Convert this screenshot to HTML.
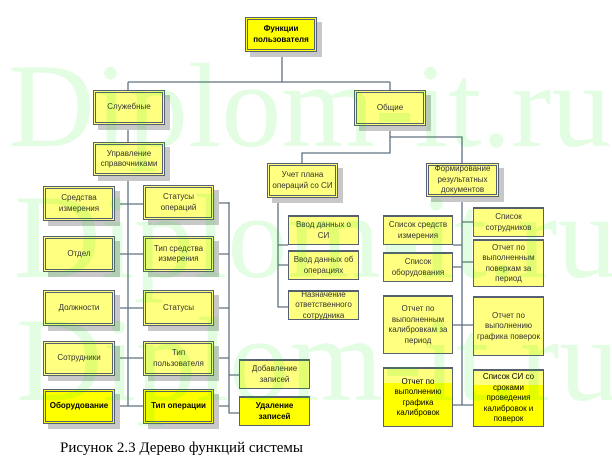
<!DOCTYPE html>
<html><head><meta charset="utf-8"><style>
body{margin:0;width:612px;height:460px;background:#fff;position:relative;overflow:hidden;font-family:"Liberation Sans",Arial,sans-serif}
.b{position:absolute;box-sizing:border-box;background:#ffff80;border:3px double #556070;box-shadow:5px 5px 0 #c8c8c8;display:flex;align-items:center;justify-content:center;text-align:center;font-size:8px;line-height:10.5px;color:#333;letter-spacing:0;white-space:nowrap}
.y{background:#ffff00;color:#000;font-weight:bold}
.s{border:1px solid #556070;border-top:2px solid #556070;box-shadow:none}
svg{position:absolute;left:0;top:0}
.wm{position:absolute;font-family:"Liberation Serif",serif;font-size:120px;color:rgba(0,235,0,0.11);white-space:nowrap;line-height:1}
.cap{position:absolute;left:60px;top:440px;font-family:"Liberation Serif",serif;font-size:15px;color:#000}
</style></head><body>
<svg width="612" height="460"><g stroke="#607080" stroke-width="1.3" fill="none">
<path d="M282 52V82M128 82H390M128 82V90M390 82V90"/>
<path d="M128 125V142M128 176V406"/>
<path d="M115 204H143M115 254H143M115 308H143M115 358H143M115 406H143"/>
<path d="M214 203H229M214 254H229M214 308H229M214 358H229M214 406H229M229 202V413H239M229 375H239"/>
<path d="M390 126V153H302V163M390 137H462V163"/>
<path d="M278 198V307H288M278 245H288M278 265H288"/>
<path d="M462 197V405M453 245H462M453 267H462M453 325H462M453 405H462M462 222H473M462 262H473M462 325H473M462 405H473"/>
</g></svg>
<div class="b y" style="left:245px;top:17px;width:72px;height:35px">Функции<br>пользователя</div>
<div class="b" style="left:93px;top:90px;width:72px;height:35px">Служебные</div>
<div class="b" style="left:354px;top:90px;width:72px;height:36px">Общие</div>
<div class="b" style="left:93px;top:142px;width:72px;height:34px">Управление<br>справочниками</div>
<div class="b" style="left:267px;top:163px;width:71px;height:35px">Учет плана<br>операций со СИ</div>
<div class="b" style="left:426px;top:163px;width:73px;height:34px">Формирование<br>результатных<br>документов</div>
<div class="b" style="left:43px;top:186px;width:72px;height:35px">Средства<br>измерения</div>
<div class="b" style="left:43px;top:236px;width:72px;height:36px">Отдел</div>
<div class="b" style="left:43px;top:290px;width:72px;height:36px">Должности</div>
<div class="b" style="left:43px;top:341px;width:72px;height:35px">Сотрудники</div>
<div class="b y" style="left:43px;top:389px;width:72px;height:35px">Оборудование</div>
<div class="b" style="left:143px;top:185px;width:71px;height:35px">Статусы<br>операций</div>
<div class="b" style="left:143px;top:236px;width:71px;height:36px">Тип средства<br>измерения</div>
<div class="b" style="left:143px;top:290px;width:71px;height:36px">Статусы</div>
<div class="b" style="left:143px;top:341px;width:71px;height:35px">Тип<br>пользователя</div>
<div class="b y" style="left:143px;top:389px;width:71px;height:35px">Тип операции</div>
<div class="b s" style="left:239px;top:359px;width:71px;height:30px">Добавление<br>записей</div>
<div class="b s y" style="left:239px;top:396px;width:71px;height:30px">Удаление<br>записей</div>
<div class="b s" style="left:288px;top:215px;width:71px;height:30px">Ввод данных о<br>СИ</div>
<div class="b s" style="left:288px;top:250px;width:71px;height:30px">Ввод данных об<br>операциях</div>
<div class="b s" style="left:288px;top:290px;width:71px;height:30px">Назначение<br>ответственного<br>сотрудника</div>
<div class="b s" style="left:383px;top:215px;width:70px;height:30px">Список средств<br>измерения</div>
<div class="b s" style="left:383px;top:252px;width:70px;height:30px">Список<br>оборудования</div>
<div class="b s" style="left:383px;top:295px;width:70px;height:59px">Отчет по<br>выполненным<br>калибровкам за<br>период</div>
<div class="b s" style="left:383px;top:367px;width:70px;height:60px;background:linear-gradient(#ffff80 0 25%,#ffff00 25%);color:#000">Отчет по<br>выполнению<br>графика<br>калибровок</div>
<div class="b s" style="left:473px;top:207px;width:71px;height:30px">Список<br>сотрудников</div>
<div class="b s" style="left:473px;top:239px;width:71px;height:48px">Отчет по<br>выполненным<br>поверкам за<br>период</div>
<div class="b s" style="left:473px;top:296px;width:71px;height:60px">Отчет по<br>выполнению<br>графика поверок</div>
<div class="b s" style="left:473px;top:369px;width:71px;height:58px;background:linear-gradient(#ffff80 0 25%,#ffff00 25%);color:#000">Список СИ со<br>сроками<br>проведения<br>калибровок и<br>поверок</div>
<div class="wm" style="left:8px;top:46px">Diplom-it.ru</div>
<div class="wm" style="left:14px;top:177px">Diplom-it.ru</div>
<div class="wm" style="left:16px;top:300px">Diplom-it.ru</div>
<div class="cap">Рисунок 2.3 Дерево функций системы</div>
</body></html>
